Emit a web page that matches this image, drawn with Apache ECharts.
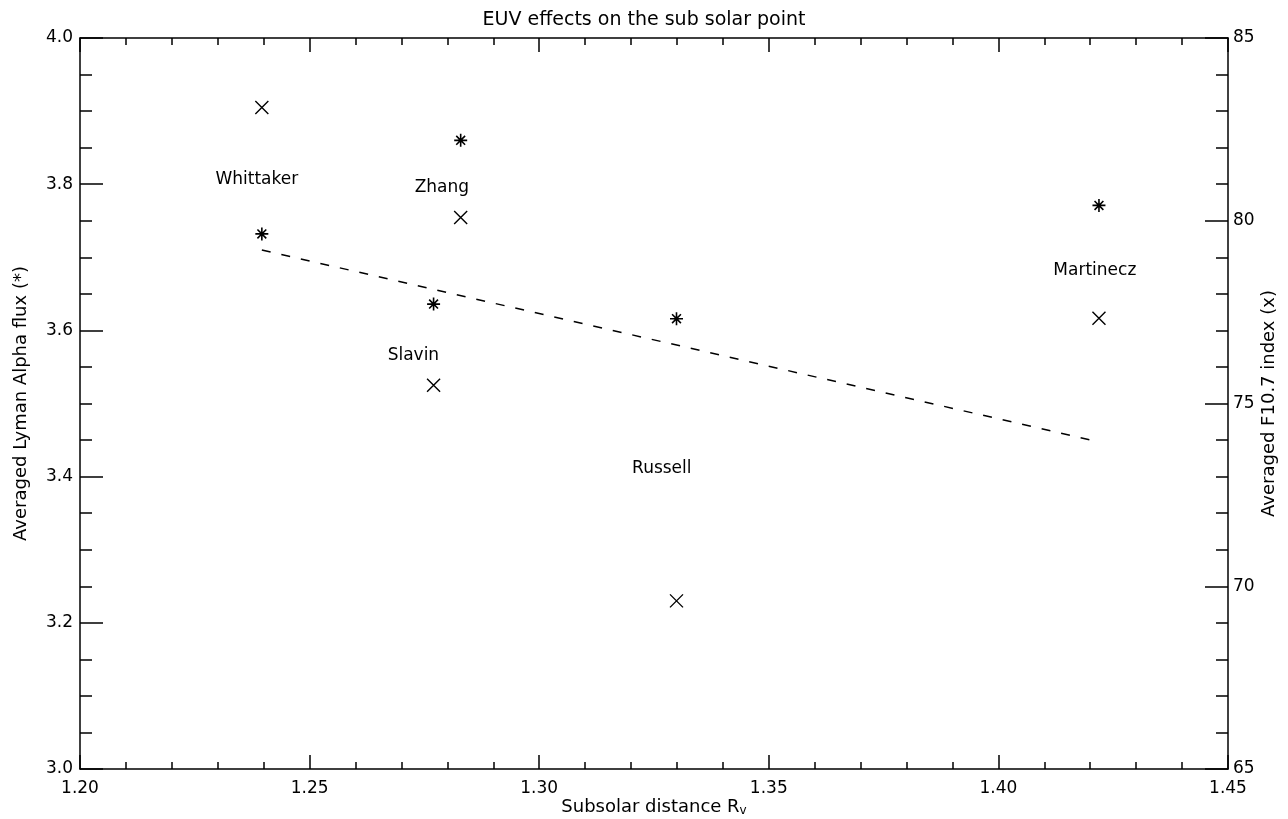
<!DOCTYPE html>
<html>
<head>
<meta charset="utf-8">
<script src="https://cdn.jsdelivr.net/npm/echarts@6/dist/echarts.min.js"></script>
<style>html,body{margin:0;padding:0;background:#fff}#c{width:1288px;height:819px}</style>
</head>
<body>
<div id="c"></div>
<script>
// Data
const names = ['Whittaker', 'Slavin', 'Zhang', 'Russell', 'Martinecz'];
const distance = [1.2396, 1.2770, 1.2829, 1.3299, 1.4219];
const lymanAlpha = [3.732, 3.636, 3.860, 3.616, 3.771];
const f107 = [83.10, 75.50, 80.09, 69.60, 77.33];
const fitLine = [[1.2396, 79.20], [1.4219, 73.95]];
const labelX = [1.2385, 1.2726, 1.2788, 1.3267, 1.4210];
const labelY = [3.806, 3.566, 3.796, 3.411, 3.682];

const FONT = 'DejaVu Sans';
const asterisk = 'path://M5,0L5,10M0,5L10,5M1.6,1.6L8.4,8.4M8.4,1.6L1.6,8.4';
const cross = 'path://M0,0L10,10M10,0L0,10';

const axisLine = {show: true, lineStyle: {color: '#000', width: 1.5}};
const chart = echarts.init(document.getElementById('c'), null, {renderer: 'canvas'});
chart.setOption({
  animation: false,
  backgroundColor: '#fff',
  title: {
    text: 'EUV effects on the sub solar point', left: 'center', top: 6,
    textStyle: {fontFamily: FONT, fontSize: 19, fontWeight: 'normal', color: '#000'}
  },
  grid: {left: 80, right: 60, top: 38, bottom: 50, containLabel: false, outerBoundsMode: 'none'},
  xAxis: [{
    type: 'value', min: 1.2, max: 1.45, interval: 0.05, position: 'bottom',
    name: '{a|Subsolar distance R}{s|v}', nameLocation: 'middle', nameGap: 28, nameMoveOverlap: false,
    nameTextStyle: {rich: {
      a: {fontFamily: FONT, fontSize: 18, color: '#000', lineHeight: 20},
      s: {fontFamily: FONT, fontSize: 12, color: '#000', lineHeight: 20, padding: [7, 0, 0, 0]}
    }},
    axisLine,
    axisTick: {show: true, inside: true, length: 14, lineStyle: {color: '#000', width: 1.5}},
    minorTick: {show: true, splitNumber: 5, length: 7, lineStyle: {color: '#000', width: 1.5}},
    axisLabel: {fontFamily: FONT, fontSize: 17, color: '#000', margin: 11, formatter: v => v.toFixed(2)},
    splitLine: {show: false}
  }, {
    type: 'value', min: 1.2, max: 1.45, interval: 0.05, position: 'top',
    axisLine,
    axisTick: {show: true, inside: true, length: 14, lineStyle: {color: '#000', width: 1.5}},
    minorTick: {show: true, splitNumber: 5, length: 7, lineStyle: {color: '#000', width: 1.5}},
    axisLabel: {show: false}, splitLine: {show: false}
  }],
  yAxis: [{
    type: 'value', min: 3.0, max: 4.0, interval: 0.2, position: 'left',
    name: 'Averaged Lyman Alpha flux (*)', nameLocation: 'middle', nameGap: 50, nameRotate: 90,
    nameMoveOverlap: false,
    nameTextStyle: {fontFamily: FONT, fontSize: 18, color: '#000'},
    axisLine,
    axisTick: {show: true, inside: true, length: 23, lineStyle: {color: '#000', width: 1.5}},
    minorTick: {show: true, splitNumber: 4, length: 12, lineStyle: {color: '#000', width: 1.5}},
    axisLabel: {fontFamily: FONT, fontSize: 17, color: '#000', margin: 7, formatter: v => v.toFixed(1)},
    splitLine: {show: false}
  }, {
    type: 'value', min: 65, max: 85, interval: 5, position: 'right',
    name: 'Averaged F10.7 index (x)', nameLocation: 'middle', nameGap: 32, nameRotate: 90,
    nameMoveOverlap: false,
    nameTextStyle: {fontFamily: FONT, fontSize: 18, color: '#000'},
    axisLine,
    axisTick: {show: true, inside: true, length: 23, lineStyle: {color: '#000', width: 1.5}},
    minorTick: {show: true, splitNumber: 5, length: 12, lineStyle: {color: '#000', width: 1.5}},
    axisLabel: {fontFamily: FONT, fontSize: 17, color: '#000', margin: 5},
    splitLine: {show: false}
  }],
  series: [{
    type: 'scatter', xAxisIndex: 0, yAxisIndex: 0,
    data: distance.map((x, i) => [x, lymanAlpha[i]]),
    symbol: asterisk, symbolSize: 13,
    itemStyle: {color: 'none', borderColor: '#000', borderWidth: 1.6, opacity: 1}
  }, {
    type: 'scatter', xAxisIndex: 0, yAxisIndex: 1,
    data: distance.map((x, i) => [x, f107[i]]),
    symbol: cross, symbolSize: 13,
    itemStyle: {color: 'none', borderColor: '#000', borderWidth: 1.4, opacity: 1}
  }, {
    type: 'line', xAxisIndex: 0, yAxisIndex: 1,
    data: fitLine, symbol: 'none',
    lineStyle: {color: '#000', width: 1.5, type: [9, 11]}
  }, {
    type: 'scatter', xAxisIndex: 0, yAxisIndex: 0,
    data: labelX.map((x, i) => ({value: [x, labelY[i]], name: names[i]})),
    symbolSize: 0, silent: true,
    itemStyle: {opacity: 1},
    label: {show: true, position: 'inside', formatter: p => p.name,
      fontFamily: FONT, fontSize: 17, color: '#000'}
  }]
});
</script>
</body>
</html>
